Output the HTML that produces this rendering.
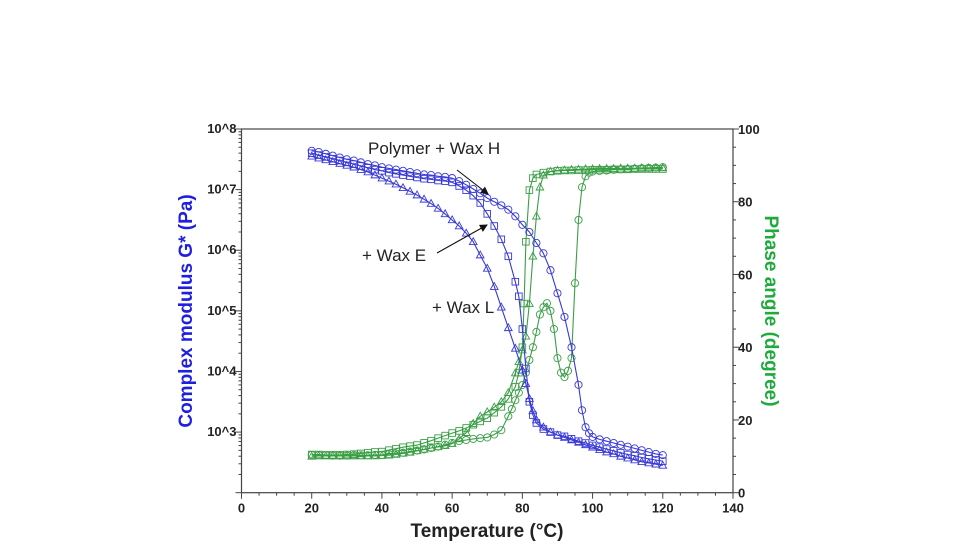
<!DOCTYPE html>
<html><head><meta charset="utf-8"><style>
body{margin:0;background:#fff;}
svg{display:block;font-family:"Liberation Sans",sans-serif;}
</style></head><body>
<svg id="chart" width="980" height="560" viewBox="0 0 980 560"></svg>
<script>
// ---- data ----
const hT=[20,22,24,26,28,30,32,34,36,38,40,42,44,46,48,50,52,54,56,58,60,62,64,66,68,70,72,74,76,78,80,82,84,86,88,90,92,94,96,97,98,99,100,102,104,106,108,110,112,114,116,118,120];
const hG=[7.64,7.62,7.59,7.56,7.53,7.5,7.48,7.45,7.42,7.4,7.37,7.35,7.33,7.31,7.29,7.27,7.25,7.24,7.22,7.21,7.19,7.14,7.08,7.01,6.94,6.86,6.8,6.74,6.67,6.56,6.42,6.3,6.12,5.95,5.67,5.29,4.9,4.4,3.78,3.36,3.08,2.98,2.92,2.88,2.85,2.82,2.79,2.76,2.73,2.7,2.67,2.64,2.62];
const eT=[20,22,24,26,28,30,32,34,36,38,40,42,44,46,48,50,52,54,56,58,60,62,64,66,68,70,72,74,76,78,79,80,81,82,83,84,86,88,90,92,94,96,98,100,102,104,106,108,110,112,114,116,118,120];
const eG=[7.6,7.57,7.54,7.51,7.48,7.45,7.42,7.39,7.36,7.33,7.31,7.28,7.26,7.24,7.22,7.2,7.18,7.17,7.15,7.14,7.12,7.06,6.99,6.9,6.78,6.6,6.4,6.18,5.9,5.48,5.24,4.7,4.05,3.5,3.28,3.15,3.05,3.0,2.95,2.93,2.89,2.85,2.82,2.78,2.75,2.72,2.69,2.66,2.63,2.61,2.58,2.56,2.54,2.52];
const lT=[20,22,24,26,28,30,32,34,36,38,40,42,44,46,48,50,52,54,56,58,60,62,64,66,68,70,72,74,76,78,80,81,82,83,84,86,88,90,92,94,96,98,100,102,104,106,108,110,112,114,116,118,120];
const lG=[7.55,7.52,7.49,7.46,7.43,7.4,7.37,7.33,7.29,7.24,7.19,7.14,7.09,7.03,6.97,6.91,6.84,6.77,6.69,6.6,6.5,6.4,6.28,6.14,5.92,5.7,5.4,5.06,4.72,4.38,4.02,3.8,3.55,3.35,3.2,3.08,3.0,2.95,2.91,2.87,2.83,2.79,2.75,2.71,2.67,2.64,2.6,2.57,2.54,2.51,2.49,2.47,2.45];
const hPT=[20,22,24,26,28,30,32,34,36,38,40,42,44,46,48,50,52,54,56,58,60,62,64,66,68,70,72,74,76,77,78,79,80,81,82,83,84,85,86,87,88,89,90,91,92,93,94,95,96,97,98,99,100,102,104,106,108,110,112,114,116,118,120];
const hP=[10.4,10.3,10.3,10.2,10.2,10.2,10.3,10.3,10.3,10.4,10.4,10.6,10.8,11,11.3,11.6,11.9,12.3,12.7,13.2,13.7,14.2,14.5,14.8,15,15.2,16,17.2,21,23,25.4,27.5,29.6,33,36.5,40,44.2,49,51,52.1,50,45,37,33,31.8,33.5,37,57.6,75,84,87,88,88.3,88.5,88.6,88.8,88.9,89,89.1,89.2,89.3,89.4,89.5];
const ePT=[20,22,24,26,28,30,32,34,36,38,40,42,44,46,48,50,52,54,56,58,60,62,64,66,68,70,72,74,76,78,79,80,80.5,81,82,83,84,86,88,90,92,94,96,98,100,102,104,106,108,110,112,114,116,118,120];
const eP=[10.5,10.5,10.4,10.4,10.4,10.5,10.6,10.8,11,11.2,11.3,11.7,12.1,12.5,12.8,13.1,13.7,14.3,15,15.7,16.4,17,17.8,18.7,19.6,20.5,22,23.6,25.8,29.1,33,40,52,69,83.2,86.5,87.5,88,88.3,88.5,88.6,88.6,88.7,88.7,88.8,88.8,88.8,88.9,88.9,88.9,89,89,89,89,89];
const lPT=[20,22,24,26,28,30,32,34,36,38,40,42,44,46,48,50,52,54,56,58,60,62,64,66,68,70,72,74,76,78,79,80,81,82,83,84,85,86,88,90,92,94,96,98,100,102,104,106,108,110,112,114,116,118,120];
const lP=[10,10.1,10.1,10.1,10.1,10.1,10.1,10.1,10.1,10.1,10.2,10.3,10.5,10.8,11.1,11.5,11.9,12.3,12.6,12.9,13.5,14.8,16.5,19,21,22.2,23.5,25,27.5,32.9,36,39.2,43,52,65,76,84,87.3,88.3,88.6,88.7,88.8,88.9,89,89,89.1,89.1,89.1,89.2,89.2,89.2,89.3,89.3,89.3,89.3];
const xTicks=[0,20,40,60,80,100,120,140];
const yTicks=[3,4,5,6,7,8];
const pTicks=[0,20,40,60,80,100];

// ---- axes ----
const L=241.5,R=733,T=129,B=492.7;
const x=t=>L+(t-0)/140*(R-L);
const yG=v=>B-(v-2)/6*(B-T);
const yP=v=>B-v/100*(B-T);
const NS="http://www.w3.org/2000/svg";
const svg=document.getElementById('chart');
function mk(tag,attrs,parent){const e=document.createElementNS(NS,tag);for(const k in attrs)e.setAttribute(k,attrs[k]);(parent||svg).appendChild(e);return e;}

const frame=mk('rect',{x:L,y:T,width:R-L,height:B-T,fill:'none',stroke:'#444','stroke-width':1.2});



// x ticks
for(let t=0;t<=140;t+=5){const len=t%20===0?6:3;const tk=mk('line',{x1:x(t),x2:x(t),y1:B,y2:B+len,stroke:'#444'});

}
xTicks.forEach(t=>{const tx=mk('text',{x:x(t),y:B+20,'text-anchor':'middle','font-size':13,'font-weight':'bold',fill:'#222'});tx.textContent=t;

});
// left ticks
for(let d=2;d<8;d++){for(let m=1;m<10;m++){const v=d+Math.log10(m);const len=m===1?6:3;const tk=mk('line',{x1:L-len,x2:L,y1:yG(v),y2:yG(v),stroke:'#444'});

}}
mk('line',{x1:L-6,x2:L,y1:yG(8),y2:yG(8),stroke:'#444'});
yTicks.forEach(v=>{const tx=mk('text',{x:L-5,y:yG(v)+4,'text-anchor':'end','font-size':13,'font-weight':'bold',fill:'#222'});tx.textContent='10^'+v;

});
// right ticks
for(let p=0;p<=100;p+=5){const len=p%20===0?6:3;const tk=mk('line',{x1:R,x2:R+len,y1:yP(p),y2:yP(p),stroke:'#444'});

}
pTicks.forEach(p=>{const tx=mk('text',{x:R+5,y:yP(p)+5,'text-anchor':'start','font-size':13,'font-weight':'bold',fill:'#222'});tx.textContent=p;

});

// titles
const xt=mk('text',{x:487,y:537,'text-anchor':'middle','font-size':19,'font-weight':'bold',fill:'#222'});xt.textContent='Temperature (°C)';


const yl=mk('text',{x:0,y:0,'text-anchor':'middle','font-size':19,'font-weight':'bold',fill:'#1f1fe0',transform:'translate(192,311) rotate(-90)'});yl.textContent='Complex modulus G* (Pa)';


const yr=mk('text',{x:0,y:0,'text-anchor':'middle','font-size':19,'font-weight':'bold',fill:'#1faa3c',transform:'translate(765,311) rotate(90)'});yr.textContent='Phase angle (degree)';



// series
function series(ts,vs,yf,color,marker,name){
  const g=mk('g',{});
  
  
  const d=ts.map((t,i)=>(i?'L':'M')+x(t).toFixed(1)+','+yf(vs[i]).toFixed(1)).join(' ');
  const ln=mk('path',{d:d,fill:'none',stroke:color,'stroke-width':1.1},g);
  
  
  ts.forEach((t,i)=>{const cx=x(t),cy=yf(vs[i]);let m;
    if(marker==='circle')m=mk('circle',{cx:cx,cy:cy,r:3.6,fill:'none',stroke:color,'stroke-width':0.9},g);
    else if(marker==='square')m=mk('rect',{x:cx-3.3,y:cy-3.3,width:6.6,height:6.6,fill:'none',stroke:color,'stroke-width':0.9},g);
    else m=mk('path',{d:`M${cx},${cy-4} L${cx+3.8},${cy+2.8} L${cx-3.8},${cy+2.8} Z`,fill:'none',stroke:color,'stroke-width':0.9},g);
    
    
  });
}
const blue='#3838d8',green='#3a9e45';
series(hPT,hP,yP,green,'circle','phase-wax-h');
series(ePT,eP,yP,green,'square','phase-wax-e');
series(lPT,lP,yP,green,'triangle','phase-wax-l');
series(hT,hG,yG,blue,'circle','modulus-wax-h');
series(eT,eG,yG,blue,'square','modulus-wax-e');
series(lT,lG,yG,blue,'triangle','modulus-wax-l');

// annotations
const defs=mk('defs',{});
const mkr=mk('marker',{id:'ah',markerWidth:8,markerHeight:8,refX:7,refY:4,orient:'auto',markerUnits:'userSpaceOnUse'},defs);
mk('path',{d:'M0,0 L8,4 L0,8 Z',fill:'#111'},mkr);
const a1=mk('line',{x1:457,y1:170,x2:488,y2:194,stroke:'#111','stroke-width':1.1,'marker-end':'url(#ah)'});


const a2=mk('line',{x1:437,y1:253,x2:487,y2:225,stroke:'#111','stroke-width':1.1,'marker-end':'url(#ah)'});


[['Polymer + Wax H',368,154,'label-wax-h'],['+ Wax E',362,261,'label-wax-e'],['+ Wax L',432,313,'label-wax-l']].forEach(a=>{
  const t=mk('text',{x:a[1],y:a[2],'font-size':17,fill:'#222'});t.textContent=a[0];
  
  
});
</script>
</body></html>
